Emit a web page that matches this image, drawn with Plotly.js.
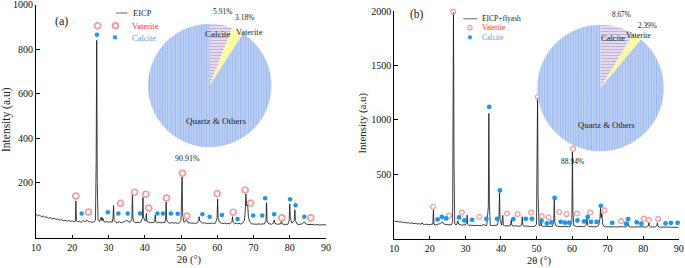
<!DOCTYPE html>
<html>
<head>
<meta charset="utf-8">
<script src="https://cdn.plot.ly/plotly-3.0.1.min.js"></script>
<style>html,body{margin:0;padding:0;background:#fff;}#chart{width:685px;height:268px;}</style>
</head>
<body>
<div id="chart"></div>
<script>
// ---------------- DATA ----------------
// Panel (a): EICP diffraction pattern [2theta, intensity]
const eicpA = [[10,58],[10.5,50],[11,54],[11.5,47],[12,50],[12.5,44],[13,46],[13.5,40],[14,43],[14.5,37],[15,40],[15.5,35],[16,37],[16.5,32],[17,34],[17.5,29],[18,32],[18.5,27],[19,30],[19.5,26],[20,28],[20.5,24],[20.85,27],[21.0,118],[21.15,28],[21.5,24],[22,26],[22.5,22],[23,30],[23.5,24],[24,32],[24.5,25],[25,24],[25.5,22],[26,25],[26.4,30],[26.6,300],[26.75,840],[26.9,200],[27.1,35],[27.5,25],[28.0,45],[28.2,28],[28.4,42],[28.8,24],[29.2,22],[29.6,26],[30,22],[30.5,24],[31.0,22],[31.25,40],[31.4,97],[31.55,30],[32,22],[32.5,20],[33,24],[33.5,20],[34,22],[34.5,26],[35,30],[35.5,24],[36,22],[36.45,35],[36.6,152],[36.75,40],[37,24],[37.5,20],[38,22],[38.5,20],[39,24],[39.35,40],[39.5,134],[39.65,45],[40.0,30],[40.3,28],[40.45,62],[40.6,26],[41,22],[41.5,20],[42,22],[42.5,20],[42.75,28],[42.9,55],[43.05,25],[43.5,20],[44,22],[44.5,19],[45,22],[45.5,20],[45.75,35],[45.9,113],[46.05,32],[46.5,20],[47,18],[47.5,21],[48,18],[48.5,20],[49,17],[49.5,20],[50.0,30],[50.15,100],[50.3,230],[50.45,60],[50.8,22],[51.2,26],[51.5,34],[52,18],[52.5,20],[53,17],[53.5,19],[54,16],[54.5,20],[54.85,30],[55.0,47],[55.15,28],[55.5,22],[56,18],[56.5,20],[57,16],[57.5,18],[58,16],[58.5,19],[59,16],[59.5,18],[59.95,40],[60.1,127],[60.25,40],[60.6,22],[61,18],[61.5,16],[62,18],[62.5,15],[63,17],[63.5,15],[64.05,25],[64.2,47],[64.35,24],[64.8,16],[65.2,18],[65.6,15],[66,17],[66.5,14],[67,18],[67.5,30],[67.75,80],[67.9,149],[68.1,95],[68.4,100],[68.6,45],[69,22],[69.5,15],[70,14],[70.5,16],[71,13],[71.5,15],[72,13],[72.5,15],[73,14],[73.45,30],[73.6,110],[73.75,28],[74.2,14],[74.6,15],[75,13],[75.5,18],[75.7,32],[75.9,18],[76.5,13],[77,14],[77.5,15],[77.7,28],[77.9,15],[78.5,12],[79,14],[79.5,13],[79.85,30],[80.0,105],[80.15,40],[80.6,18],[81.25,30],[81.4,78],[81.55,30],[82,14],[82.5,12],[83,13],[83.5,15],[84.0,24],[84.5,14],[85,12],[85.5,13],[86,11],[86.5,12],[87,10],[87.5,12],[88,10],[88.5,11],[89,9],[89.5,11],[90,10]];
const vateriteAx = [21.0,24.5,27.0,33.3,37.2,40.3,41.1,46.0,50.4,51.6,60.0,64.4,67.7,69.2,77.8,85.8];
const vateriteAy = [140,68,905,107,157,148,86,131,242,50,151,67,167,108,42,42];
const calciteAx = [22.6,26.8,29.8,32.7,35.3,38.7,43.5,45.0,47.2,49.1,55.9,57.9,61.3,65.6,69.9,72.4,73.2,75.7,80.1,81.6,84.0];
const calciteAy = [62,865,67,62,62,62,61,61,61,60,58,47,55,37,52,52,130,58,125,99,47];

// Panel (b): EICP+flyash diffraction pattern
const eicpB = [[10,70],[10.5,62],[11,66],[11.5,58],[12,61],[12.5,55],[13,57],[13.5,50],[14,53],[14.5,47],[15,50],[15.5,44],[16,46],[16.5,41],[17,44],[17.5,38],[17.8,52],[18,40],[18.5,36],[19,39],[19.5,34],[20,37],[20.5,33],[20.85,40],[21.0,168],[21.15,40],[21.5,32],[22,35],[22.5,38],[23,45],[23.5,60],[24,40],[24.5,36],[25,33],[25.5,35],[26,32],[26.4,60],[26.55,800],[26.65,1985],[26.8,600],[27.0,40],[27.5,32],[27.9,70],[28.1,40],[28.5,35],[29,30],[29.5,33],[30,30],[30.35,60],[30.5,122],[30.65,40],[31,28],[31.5,30],[32,27],[32.5,29],[33,26],[33.5,28],[34,30],[34.5,26],[35,35],[35.5,28],[36,26],[36.45,200],[36.6,1058],[36.75,220],[37,30],[37.5,26],[38,28],[38.5,24],[39,30],[39.45,100],[39.6,328],[39.75,80],[40.2,30],[40.5,120],[40.7,30],[41,24],[41.5,26],[42,22],[42.5,24],[42.75,40],[42.9,80],[43.05,30],[43.5,22],[44,24],[44.5,21],[45,23],[45.5,20],[45.85,40],[46.0,107],[46.15,30],[46.5,20],[47,22],[47.5,19],[48,21],[48.5,18],[49,20],[49.5,18],[50.0,40],[50.15,500],[50.3,1196],[50.45,300],[50.7,30],[51.0,25],[51.25,95],[51.45,25],[52,18],[52.5,20],[53,17],[53.5,19],[54,17],[54.5,19],[54.85,60],[55.0,267],[55.15,60],[55.5,22],[56,18],[56.5,20],[57,16],[57.5,18],[58,16],[58.5,18],[59,16],[59.5,18],[59.95,60],[60.1,705],[60.25,150],[60.5,25],[61,18],[61.5,16],[62,18],[62.5,15],[63,17],[63.5,15],[64.05,40],[64.2,92],[64.35,30],[64.8,16],[65.2,18],[65.6,15],[66,17],[66.5,14],[67,18],[67.5,30],[67.85,90],[68.0,185],[68.2,100],[68.4,138],[68.6,40],[69,20],[69.5,15],[70,14],[70.5,16],[71,13],[71.5,15],[72,13],[72.5,15],[73,14],[73.5,16],[74,13],[74.5,15],[75,14],[75.5,25],[75.7,61],[75.9,20],[76.5,13],[77,14],[77.5,13],[78,15],[78.5,12],[79,14],[79.5,13],[80,15],[80.5,12],[81,14],[81.45,25],[81.6,55],[81.75,22],[82,14],[82.5,12],[83,13],[83.5,15],[83.85,25],[84.0,50],[84.15,20],[84.5,13],[85,12],[85.5,13],[86,11],[86.5,12],[87,11],[87.5,12],[88,10],[88.5,11],[89,10],[89.5,11],[90,10]];
const vateriteBx = [20.9,25.4,26.6,29.0,33.9,41.7,44.7,48.5,50.4,51.5,53.4,56.4,58.5,60.3,61.4,65.1,69.1,73.8,80.2,81.6,84.2];
const vateriteBy = [199,119,1993,147,107,138,132,147,1211,113,102,153,132,733,138,147,166,67,90,78,87];
const calciteBx = [22.2,23.4,24.6,28.2,29.7,31.9,35.9,36.7,38.9,39.7,43.5,47.0,48.7,51.4,52.9,54.2,55.1,56.8,58.0,59.2,61.5,63.4,64.4,65.3,66.9,68.1,71.3,75.2,75.8,78.2,79.5,86.3,87.8,89.7];
const calciteBy = [83,107,92,101,74,79,88,1119,88,350,86,88,88,70,46,55,280,61,53,53,74,64,105,60,60,208,52,44,86,56,44,46,52,52];

// Pie insets
const pieLabels = ['Calcite','Vaterite','Quartz & Others'];
const pieA = [5.91, 3.18, 90.91];
const pieB = [8.67, 2.39, 88.94];
const pctA = ['5.91%','3.18%','90.91%'];
const pctB = ['8.67%','2.39%','88.94%'];

const xTicks = [10,20,30,40,50,60,70,80,90];
const yTicksA = [200,400,600,800,1000];
const yTicksB = [500,1000,1500,2000];

// ---------------- STYLE / LAYOUT ----------------
const W = 685, H = 268;
const FONT = "'Liberation Serif', 'Times New Roman', serif";
const fx = v => v / W;
const fy = v => 1 - v / H;

const VAT = '#f59a9a', VAT_TXT = '#ff2a2a', CAL = '#1b95f2', CAL_TXT = '#35aaf2';

const pieMarker = {
  colors: ['#dccfe8', '#fbf8a6', '#b2caf6'],
  line: {width: 0},
  pattern: {
    shape: ['-', '', '|'],
    fgcolor: ['#c4b0d8', '#fbf8a6', '#9ab7ee'],
    bgcolor: ['#ebe3f2', '#fbf8a6', '#c8d9f8'],
    size: [3, 3, 2.6],
    solidity: [0.45, 0.3, 0.5]
  }
};

const traces = [
  {type:'scatter', mode:'lines', x:eicpA.map(p=>p[0]), y:eicpA.map(p=>p[1]), xaxis:'x', yaxis:'y',
   line:{color:'#111', width:0.8}, hoverinfo:'skip'},
  {type:'scatter', mode:'markers', x:vateriteAx, y:vateriteAy, xaxis:'x', yaxis:'y', cliponaxis:false,
   marker:{symbol:'circle-open', size:6, color:VAT, line:{width:1.7, color:VAT}}},
  {type:'scatter', mode:'markers', x:calciteAx, y:calciteAy, xaxis:'x', yaxis:'y', cliponaxis:false,
   marker:{symbol:'circle', size:4.5, color:CAL}},
  {type:'scatter', mode:'lines', x:eicpB.map(p=>p[0]), y:eicpB.map(p=>p[1]), xaxis:'x2', yaxis:'y2',
   line:{color:'#111', width:0.8}, hoverinfo:'skip'},
  {type:'scatter', mode:'markers', x:vateriteBx, y:vateriteBy, xaxis:'x2', yaxis:'y2', cliponaxis:false,
   marker:{symbol:'circle-open', size:4.8, color:VAT, line:{width:1.3, color:VAT}}},
  {type:'scatter', mode:'markers', x:calciteBx, y:calciteBy, xaxis:'x2', yaxis:'y2', cliponaxis:false,
   marker:{symbol:'circle', size:4.8, color:CAL}},
  {type:'pie', labels:pieLabels, values:pieA, sort:false, direction:'clockwise', rotation:0,
   textinfo:'none', hoverinfo:'skip', showlegend:false,
   domain:{x:[fx(148), fx(271.4)], y:[fy(147.2), fy(23.8)]}, marker:pieMarker},
  {type:'pie', labels:pieLabels, values:pieB, sort:false, direction:'clockwise', rotation:0,
   textinfo:'none', hoverinfo:'skip', showlegend:false,
   domain:{x:[fx(537), fx(664)], y:[fy(151.3), fy(24.7)]}, marker:pieMarker}
];

const axisBase = {
  showline:true, linecolor:'#000', linewidth:1, mirror:false,
  ticks:'inside', ticklen:3.5, tickwidth:1, tickcolor:'#000',
  showgrid:false, zeroline:false, fixedrange:true,
  ticklabeloverflow:'allow',
  tickfont:{family:FONT, size:10, color:'#111'}
};

function ann(text, x, y, size, opts) {
  return Object.assign({
    text:text, xref:'paper', yref:'paper', x:fx(x), y:fy(y),
    xanchor:'center', yanchor:'middle', showarrow:false,
    font:{family:FONT, size:size, color:'#222'}
  }, opts || {});
}

const annotations = [
  // axis titles
  ann('Intensity (a.u)', 7, 120, 11.5, {textangle:-90}),
  ann('Intensity (a.u)', 362.5, 123, 10.8, {textangle:-90}),
  ann('2θ (°)', 189.5, 260, 10.5),
  ann('2θ (°)', 539.5, 261, 10.5),
  // panel labels
  ann('(a)', 61.5, 21, 12),
  ann('(b)', 417, 14.5, 11.5),
  // legend (a)
  ann('EICP', 131, 13, 8.5, {xanchor:'left'}),
  ann('Vaterite', 130, 25.7, 8.5, {xanchor:'left', font:{family:FONT, size:8.5, color:VAT_TXT}}),
  ann('Calcite', 130, 37.5, 8.5, {xanchor:'left', font:{family:FONT, size:8.5, color:CAL_TXT}}),
  // legend (b)
  ann('EICP+flyash', 480, 18.5, 7.5, {xanchor:'left'}),
  ann('Vaterite', 480, 27.5, 7.5, {xanchor:'left', font:{family:FONT, size:7.5, color:VAT_TXT}}),
  ann('Calcite', 480, 37, 7.5, {xanchor:'left', font:{family:FONT, size:7.5, color:CAL_TXT}}),
  // pie (a) labels
  ann(pctA[0], 222, 11.5, 7.5),
  ann(pctA[1], 244, 17.5, 7.5),
  ann(pctA[2], 187.3, 158, 8),
  ann(pieLabels[0], 218, 34.3, 9),
  ann(pieLabels[1], 249, 32.3, 8.5),
  ann(pieLabels[2], 216, 120.7, 9),
  // pie (b) labels
  ann(pctB[0], 621.3, 14.3, 7.3),
  ann(pctB[1], 647.5, 25.7, 7.3),
  ann(pctB[2], 572.5, 161.7, 7.5),
  ann(pieLabels[0], 613.3, 38.3, 8.5),
  ann(pieLabels[1], 638, 36, 8),
  ann(pieLabels[2], 606.8, 125, 8.5)
];

function circ(cx, cy, r, fill, lineColor, lw) {
  return {type:'circle', xref:'paper', yref:'paper',
    x0:fx(cx-r), x1:fx(cx+r), y0:fy(cy+r), y1:fy(cy-r),
    fillcolor:fill, line:{color:lineColor, width:lw}};
}
const shapes = [
  {type:'line', xref:'paper', yref:'paper', x0:fx(116), x1:fx(127.5), y0:fy(13), y1:fy(13), line:{color:'#666', width:1}},
  circ(115.5, 25.7, 2.8, '#fff', VAT, 2),
  circ(115, 37.3, 1.9, CAL, CAL, 0.5),
  {type:'line', xref:'paper', yref:'paper', x0:fx(463.3), x1:fx(477.3), y0:fy(18.8), y1:fy(18.8), line:{color:'#666', width:1}},
  circ(470, 27.7, 2.1, '#fff', VAT, 1.3),
  circ(470, 37.3, 1.8, CAL, CAL, 0.5)
];

const layout = {
  width:W, height:H, margin:{l:0, r:0, t:0, b:0},
  paper_bgcolor:'#fff', plot_bgcolor:'rgba(0,0,0,0)',
  showlegend:false,
  font:{family:FONT, color:'#111'},
  xaxis:Object.assign({}, axisBase, {domain:[fx(36), fx(326)], range:[10,90], tickvals:xTicks, anchor:'y'}),
  yaxis:Object.assign({}, axisBase, {domain:[fy(238.3), fy(4.7)], range:[-50,1000], tickvals:yTicksA, anchor:'x'}),
  xaxis2:Object.assign({}, axisBase, {domain:[fx(394.3), fx(678.7)], range:[10,90], tickvals:xTicks, anchor:'y2'}),
  yaxis2:Object.assign({}, axisBase, {domain:[fy(239.3), fy(11)], range:[-100,2000], tickvals:yTicksB, anchor:'x2'}),
  annotations:annotations,
  shapes:shapes
};

Plotly.newPlot('chart', traces, layout, {displayModeBar:false, staticPlot:true}).then(gd => {
  // Make sure the top tick label of panel (a) is visible; if Plotly hid it, add it as text.
  const top = String(yTicksA[yTicksA.length - 1]);
  const ok = Array.from(gd.querySelectorAll('.ytick text')).some(t => {
    if (t.textContent !== top) return false;
    const r = t.getBoundingClientRect();
    return r.width > 0 && r.left < 60 && r.top > -8 && r.bottom < 20;
  });
  if (!ok) {
    Plotly.relayout(gd, {annotations: annotations.concat([
      ann(top, 33.5, 4.7, 10, {xanchor:'right', font:{family:FONT, size:10, color:'#111'}})
    ])});
  }
});
</script>
</body>
</html>
